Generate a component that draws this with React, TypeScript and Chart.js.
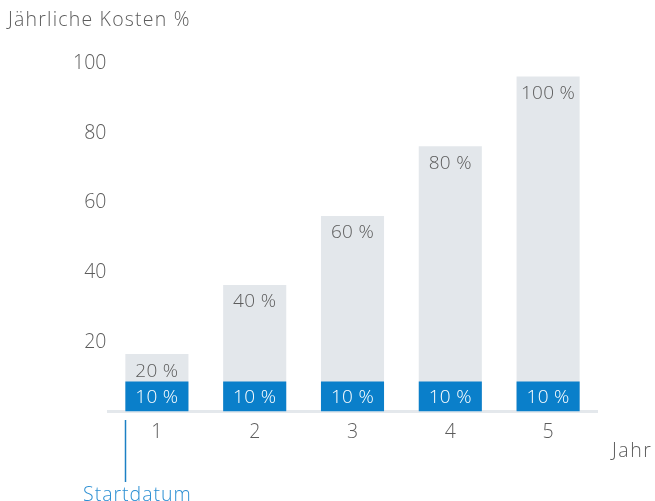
import { useEffect, useRef } from "react";
import { Chart, registerables } from "chart.js";

Chart.register(...registerables);

// ---- data ----
const years = ["1", "2", "3", "4", "5"];
const cumulativeValues = [16.5, 36.4, 56.2, 76.3, 96.3];
const cumulativeLabels = ["20 %", "40 %", "60 %", "80 %", "100 %"];
const annualValues = [8.6, 8.6, 8.6, 8.6, 8.6];
const annualLabels = ["10 %", "10 %", "10 %", "10 %", "10 %"];
const yTicks = [20, 40, 60, 80, 100];
const chartTitle = "Jährliche Kosten %";
const xTitle = "Jahr";
const startLabel = "Startdatum";

const FONT = "'Open Sans', 'DejaVu Sans', sans-serif";
const TEXT = "#5c5c5c";
const BLUE = "#0a7fca";
const GRAY_BAR = "#e3e7eb";

const annotatePlugin = {
  id: "annotate",
  afterDatasetsDraw(chart: any) {
    const ctx = chart.ctx;
    const area = chart.chartArea;
    ctx.save();
    ctx.font = `300 19px ${FONT}`;
    (ctx as any).letterSpacing = "0.3px";
    // gray labels
    const gMeta = chart.getDatasetMeta(0);
    gMeta.data.forEach((el: any, i: number) => {
      ctx.fillStyle = TEXT;
      ctx.textAlign = "center";
      ctx.textBaseline = "middle";
      ctx.fillText(cumulativeLabels[i], el.x, el.y + 17);
    });
    const bMeta = chart.getDatasetMeta(1);
    bMeta.data.forEach((el: any, i: number) => {
      ctx.fillStyle = "#ffffff";
      ctx.textAlign = "center";
      ctx.textBaseline = "middle";
      ctx.fillText(annualLabels[i], el.x, (el.y + el.base) / 2 + 1);
    });
    // title
    ctx.font = `300 19.5px ${FONT}`;
    (ctx as any).letterSpacing = "1.2px";
    ctx.fillStyle = TEXT;
    ctx.textAlign = "left";
    ctx.textBaseline = "middle";
    ctx.fillText(chartTitle, 8, 20);
    // x title
    (ctx as any).letterSpacing = "1.5px";
    ctx.textBaseline = "alphabetic";
    ctx.fillText(xTitle, area.right + 15, 457);
    // start marker
    const first = bMeta.data[0];
    const lx = Math.round(first.x - first.width / 2) + 0.5;
    ctx.strokeStyle = "#1c80c4";
    ctx.lineWidth = 1.5;
    ctx.beginPath();
    ctx.moveTo(lx, 420);
    ctx.lineTo(lx, 482);
    ctx.stroke();
    (ctx as any).letterSpacing = "1px";
    ctx.fillStyle = "#2b8fd3";
    ctx.fillText(startLabel, 83, 501);
    ctx.restore();
  },
};

export default function App() {
  const ref = useRef<HTMLCanvasElement | null>(null);
  useEffect(() => {
    document.body.style.margin = "0";
    const canvas = ref.current!;
    const chart = new Chart(canvas, {
      type: "bar",
      data: {
        labels: years,
        datasets: [
          {
            label: "Kumuliert",
            data: cumulativeValues,
            backgroundColor: GRAY_BAR,
            order: 2,
            grouped: false,
            barPercentage: 0.645,
            categoryPercentage: 1,
          } as any,
          {
            label: "Jährlich",
            data: annualValues,
            backgroundColor: BLUE,
            order: 1,
            grouped: false,
            barPercentage: 0.645,
            categoryPercentage: 1,
          } as any,
        ],
      },
      options: {
        responsive: false,
        animation: false,
        devicePixelRatio: 1,
        layout: { padding: { top: 63.7, right: 58, left: 0, bottom: 0 } },
        plugins: {
          legend: { display: false },
          tooltip: { enabled: false },
          title: { display: false },
        },
        scales: {
          x: {
            type: "category",
            z: 1,
            grid: { display: false, drawTicks: false },
            border: { display: true, color: "#e4e8ec", width: 3 },
            ticks: {
              color: TEXT,
              padding: 9,
              font: { family: FONT, size: 19.5, weight: "300" as any },
              maxRotation: 0,
            },
            afterFit: (s: any) => {
              s.height = 89.5;
            },
          },
          y: {
            min: 0,
            max: 100,
            grid: { display: false, drawTicks: false },
            border: { display: false },
            ticks: {
              color: TEXT,
              padding: 1.5,
              font: { family: FONT, size: 19.5, weight: "300" as any },
            },
            afterBuildTicks: (s: any) => {
              s.ticks = yTicks.map((v) => ({ value: v }));
            },
            afterFit: (s: any) => {
              s.width = 108;
            },
          },
        },
      },
      plugins: [annotatePlugin],
    });
    return () => chart.destroy();
  }, []);
  return (
    <div style={{ width: 655, height: 501 }}>
      <canvas ref={ref} width={655} height={501} style={{ display: "block" }} />
    </div>
  );
}
